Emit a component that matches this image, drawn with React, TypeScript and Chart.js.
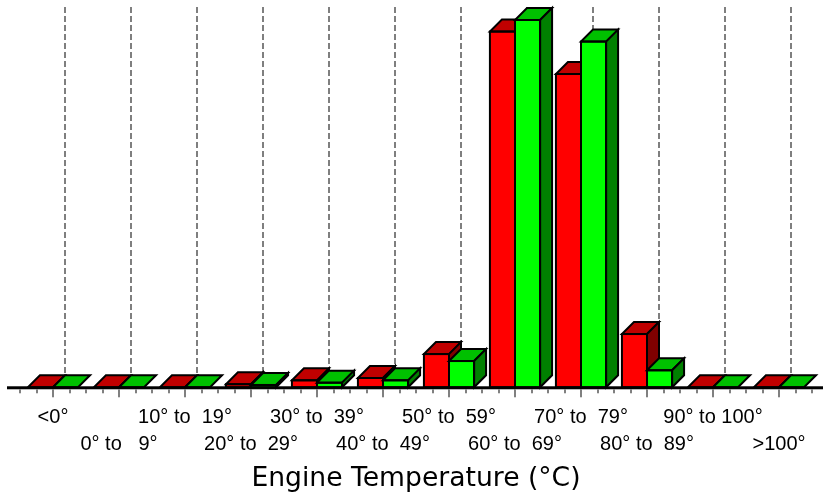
import React, { useEffect, useRef } from 'react';
import { Chart, registerables } from 'chart.js';

Chart.register(...registerables);

const categories = [
  '<0°',
  '0° to   9°',
  '10° to  19°',
  '20° to  29°',
  '30° to  39°',
  '40° to  49°',
  '50° to  59°',
  '60° to  69°',
  '70° to  79°',
  '80° to  89°',
  '90° to 100°',
  '>100°',
];
const seriesRed = [0, 0, 0, 0.4, 0.9, 1.2, 4.3, 46.1, 40.6, 6.9, 0, 0];
const seriesGreen = [0, 0, 0, 0.3, 0.6, 0.9, 3.4, 47.6, 44.8, 2.2, 0, 0];
const axisTitle = 'Engine Temperature (°C)';

const DX = 12;
const DY = 12;
const faceColors = [
  { front: '#ff0000', top: '#c00000', side: '#800000' },
  { front: '#00ff00', top: '#00c000', side: '#008000' },
];

function drawBox(ctx: any, bar: any, c: any) {
  const { x, y, base, width } = bar.getProps(['x', 'y', 'base', 'width'], true);
  const L = x - width / 2;
  const R = x + width / 2;
  const T = y;
  const B = base;
  if (B - T > 0.5) {
    ctx.fillStyle = c.front;
    ctx.fillRect(L, T, R - L, B - T);
  }
  ctx.beginPath();
  ctx.moveTo(L, T);
  ctx.lineTo(R, T);
  ctx.lineTo(R + DX, T - DY);
  ctx.lineTo(L + DX, T - DY);
  ctx.closePath();
  ctx.fillStyle = c.top;
  ctx.fill();
  ctx.stroke();
  if (B - T > 0.5) {
    ctx.beginPath();
    ctx.moveTo(R, T);
    ctx.lineTo(R + DX, T - DY);
    ctx.lineTo(R + DX, B - DY);
    ctx.lineTo(R, B);
    ctx.closePath();
    ctx.fillStyle = c.side;
    ctx.fill();
    ctx.stroke();
    ctx.strokeRect(L, T, R - L, B - T);
  }
}

const threeD = {
  id: 'threeD',
  beforeDatasetsDraw(chart: any) {
    const { ctx, chartArea, scales } = chart;
    const xs = scales.x;
    ctx.save();
    ctx.strokeStyle = '#7f7f7f';
    ctx.lineWidth = 2;
    ctx.setLineDash([6, 3]);
    for (let i = 0; i < categories.length; i++) {
      const px = Math.round(xs.getPixelForValue(i)) + DX;
      ctx.beginPath();
      ctx.moveTo(px, chartArea.top - 13);
      ctx.lineTo(px, chartArea.bottom - DY);
      ctx.stroke();
    }
    ctx.restore();
  },
  afterDatasetsDraw(chart: any) {
    const { ctx } = chart;
    const metas = [chart.getDatasetMeta(0), chart.getDatasetMeta(1)];
    ctx.save();
    ctx.lineWidth = 2;
    ctx.strokeStyle = '#000';
    ctx.lineJoin = 'miter';
    for (let i = 0; i < categories.length; i++) {
      for (let d = 0; d < metas.length; d++) {
        const bar = metas[d].data[i];
        if (bar) drawBox(ctx, bar, faceColors[d]);
      }
    }
    ctx.restore();
  },
  afterDraw(chart: any) {
    const { ctx, chartArea } = chart;
    const yb = chartArea.bottom;
    ctx.save();
    ctx.fillStyle = '#000';
    ctx.fillRect(7, yb - 1, 816, 3);
    ctx.fillStyle = '#808080';
    const step = (chartArea.right - chartArea.left) / categories.length;
    for (let k = 0; k <= categories.length * 4; k++) {
      const mx = chartArea.left + (k * step) / 4;
      if (k % 4 === 2) {
        ctx.fillRect(Math.round(mx) - 1, yb + 2, 2, 8);
      } else {
        ctx.fillRect(Math.round(mx) - 1, yb + 2, 2, 4);
      }
    }
    ctx.restore();
  },
};

export default function App() {
  const ref = useRef<HTMLCanvasElement | null>(null);
  useEffect(() => {
    if (!ref.current) return;
    const chart = new Chart(ref.current, {
      type: 'bar',
      data: {
        labels: categories,
        datasets: [
          {
            label: 'Series 1',
            data: seriesRed,
            backgroundColor: faceColors[0].front,
            borderWidth: 0,
            categoryPercentage: 0.76,
            barPercentage: 1,
          },
          {
            label: 'Series 2',
            data: seriesGreen,
            backgroundColor: faceColors[1].front,
            borderWidth: 0,
            categoryPercentage: 0.76,
            barPercentage: 1,
          },
        ],
      },
      options: {
        animation: false,
        responsive: false,
        devicePixelRatio: 1,
        layout: { padding: { left: 20, right: 12, top: 20, bottom: 0 } },
        plugins: { legend: { display: false }, tooltip: { enabled: false } },
        scales: {
          x: {
            offset: true,
            grid: { display: false, drawTicks: false },
            border: { display: false },
            ticks: {
              autoSkip: false,
              maxRotation: 0,
              minRotation: 0,
              padding: 17,
              color: '#000',
              font: { family: "'Liberation Sans', Arial, sans-serif", size: 20, lineHeight: 1.35 },
              callback: (_v: any, i: number) => (i % 2 === 0 ? [categories[i]] : ['', categories[i]]),
            },
            title: {
              display: true,
              text: axisTitle,
              color: '#000',
              font: { family: "'DejaVu Sans', sans-serif", size: 26.6, lineHeight: 1.2 },
              padding: { top: -12.2, bottom: 0 },
            },
          },
          y: { display: false, min: 0, max: 47.6 },
        },
      },
      plugins: [threeD],
    });
    return () => chart.destroy();
  }, []);
  return (
    <div style={{ position: 'fixed', left: 0, top: 0, width: 824, height: 495, background: '#fff' }}>
      <canvas ref={ref} width={824} height={495} />
    </div>
  );
}
